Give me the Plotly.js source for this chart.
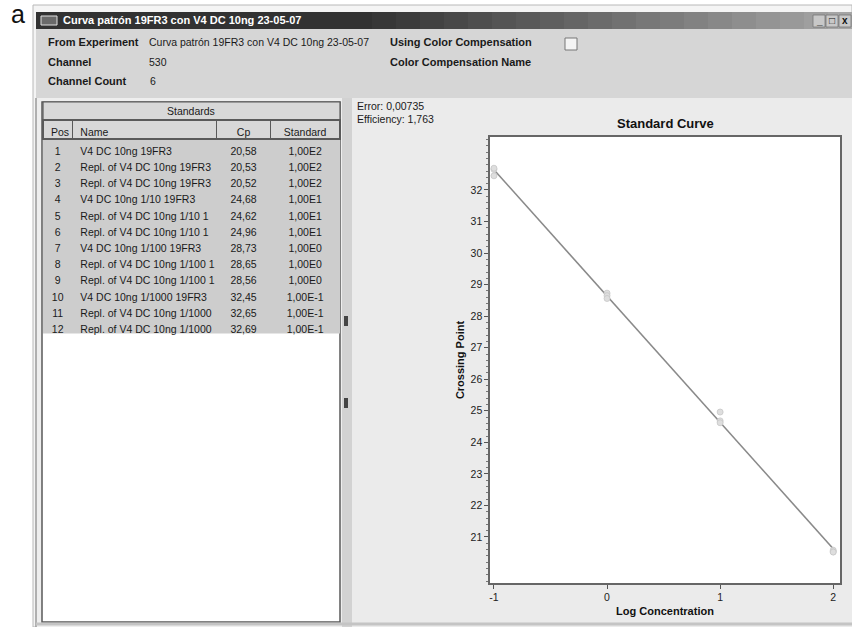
<!DOCTYPE html>
<html>
<head>
<meta charset="utf-8">
<script src="https://cdn.plot.ly/plotly-3.0.1.min.js"></script>
<style>
html,body{margin:0;padding:0;background:#fff;}
#chart{width:852px;height:627px;}
</style>
</head>
<body>
<div id="chart"></div>
<script>
// ---------- data ----------
const positions = [1,2,3,4,5,6,7,8,9,10,11,12];
const sampleNames = [
  "V4 DC 10ng 19FR3",
  "Repl. of V4 DC 10ng 19FR3",
  "Repl. of V4 DC 10ng 19FR3",
  "V4 DC 10ng 1/10 19FR3",
  "Repl. of V4 DC 10ng 1/10 1",
  "Repl. of V4 DC 10ng 1/10 1",
  "V4 DC 10ng 1/100 19FR3",
  "Repl. of V4 DC 10ng 1/100 1",
  "Repl. of V4 DC 10ng 1/100 1",
  "V4 DC 10ng 1/1000 19FR3",
  "Repl. of V4 DC 10ng 1/1000",
  "Repl. of V4 DC 10ng 1/1000"
];
const crossingPoints = [20.58,20.53,20.52,24.68,24.62,24.96,28.73,28.65,28.56,32.45,32.65,32.69];
const logConcentration = [2,2,2,1,1,1,0,0,0,-1,-1,-1];
const tableHeaders = ["Pos","Name","Cp","Standard"];
const xTicks = [-1,0,1,2];
const yTicks = [21,22,23,24,25,26,27,28,29,30,31,32];
const windowTitle = "Curva patrón 19FR3 con V4 DC 10ng 23-05-07";
const experimentName = "Curva patrón 19FR3 con V4 DC 10ng 23-05-07";
const channel = "530";
const channelCount = "6";
const errorText = "Error: 0,00735";
const efficiencyText = "Efficiency: 1,763";

// ---------- derived ----------
const NB = '\u00a0';
const noWrap = s => String(s).replace(/ /g, NB);
const fmtComma = (v, d) => v.toFixed(d).replace('.', ',');
const cpText = crossingPoints.map(v => fmtComma(v, 2));
const stdText = logConcentration.map(e => "1,00E" + e);
const nameText = sampleNames.map(noWrap);

// least-squares standard curve
const n = logConcentration.length;
const mx = logConcentration.reduce((a,b)=>a+b,0)/n;
const my = crossingPoints.reduce((a,b)=>a+b,0)/n;
let sxy = 0, sxx = 0;
for (let i=0;i<n;i++){ sxy += (logConcentration[i]-mx)*(crossingPoints[i]-my); sxx += (logConcentration[i]-mx)**2; }
const slope = sxy/sxx, intercept = my - slope*mx;
const lineX = [Math.min(...logConcentration), Math.max(...logConcentration)];
const lineY = lineX.map(x => intercept + slope*x);

// ---------- layout helpers (pixel -> paper) ----------
const W = 852, H = 627;
const px = x => x / W;
const py = y => 1 - y / H;
const FONT = "Liberation Sans, Arial, sans-serif";

function rect(x0,y0,x1,y1,fill,lineColor,lw){
  return {type:'rect', xref:'paper', yref:'paper', x0:px(x0), x1:px(x1), y0:py(y1), y1:py(y0),
    fillcolor: fill || 'rgba(0,0,0,0)', line:{color: lineColor || 'rgba(0,0,0,0)', width: lw===undefined?0:lw}, layer:'below'};
}
function seg(x0,y0,x1,y1,color,lw){
  return {type:'line', xref:'paper', yref:'paper', x0:px(x0), x1:px(x1), y0:py(y0), y1:py(y1),
    line:{color:color, width:lw}, layer:'below'};
}
function label(x,y,text,opts){
  opts = opts || {};
  return {xref:'paper', yref:'paper', x:px(x), y:py(y), text:text, showarrow:false,
    xanchor: opts.xanchor || 'left', yanchor: opts.yanchor || 'middle',
    font:{family:FONT, size: opts.size || 11, color: opts.color || '#1a1a1a'}};
}

const HEADER_H = 19, ROW_H = 16.2, TABLE_TOP = 120;
const rowsBottom = TABLE_TOP + HEADER_H + ROW_H * positions.length;

const shapes = [];
// window frame
shapes.push(rect(33,5,852,627,'#f4f4f4','#b8b8b8',1));
// title bar gradient
const steps = 34;
for (let i=0;i<steps;i++){
  const t = i/(steps-1);
  const g = Math.round(50 + 115*Math.max(0,(t-0.4)/0.6));
  const x0 = 36 + (852-36)*i/steps, x1 = 36 + (852-36)*(i+1)/steps + 1;
  shapes.push(rect(x0,12,x1,29,`rgb(${g},${g},${g})`));
}
// title icon
shapes.push(rect(41,16,57,25,'#6a6a6a','#e0e0e0',1));
// window controls
shapes.push(rect(813,15,825,27,'#c8c8c8','#777',0.8));
shapes.push(rect(826,15,838,27,'#c8c8c8','#777',0.8));
shapes.push(rect(839,15,851,27,'#c8c8c8','#777',0.8));
// header area
shapes.push(rect(36,29,852,98,'#d6d6d6'));
// checkbox
shapes.push(rect(565,38,577,50,'#f4f4f4','#777',1));
// left panel background
shapes.push(rect(36,98,342,627,'#eeeeee'));
shapes.push(seg(36,98,36,627,'#9a9a9a',1.5));
// table white area
shapes.push(rect(42,102,340,622,'#ffffff','#5a5a5a',1.5));
// selected rows background
shapes.push(rect(43,TABLE_TOP+HEADER_H,340,rowsBottom,'#cdcdcd'));
// "Standards" group header
shapes.push(rect(43,102,340,TABLE_TOP,'#d8d8d8','#5a5a5a',1.2));
// splitter / scrollbar strip
shapes.push(rect(342,98,352,627,'#d2d2d2'));
shapes.push(rect(344,316,348,326,'#444'));
shapes.push(rect(344,398,348,408,'#444'));
// right panel
shapes.push(rect(352,98,852,627,'#ebebeb'));
// plot area background
shapes.push(rect(490,137,840,583,'#ffffff'));
// bottom window edge
shapes.push(seg(36,624,852,624,'#c4c4c4',3));

const annotations = [
  label(9,14,'a',{size:25,color:'#111'}),
  label(61,20,'<b>'+windowTitle+'</b>',{color:'#ffffff',size:11}),
  label(819,21,'<b>_</b>',{xanchor:'center',size:10,color:'#111'}),
  label(832,21,'□',{xanchor:'center',size:10,color:'#111'}),
  label(845,21,'<b>x</b>',{xanchor:'center',size:10,color:'#111'}),
  label(46,42,'<b>From Experiment</b>'),
  label(147,42,experimentName,{size:10.5}),
  label(46,62,'<b>Channel</b>'),
  label(147,62,channel,{size:10.5}),
  label(46,81,'<b>Channel Count</b>'),
  label(148,81,channelCount,{size:10.5}),
  label(388,42,'<b>Using Color Compensation</b>'),
  label(388,62,'<b>Color Compensation Name</b>'),
  label(191,111,'Standards',{xanchor:'center',size:10.5}),
  label(355,106,errorText,{size:10.5}),
  label(355,119,efficiencyText,{size:10.5}),
  label(665,123,'<b>Standard Curve</b>',{xanchor:'center',size:13,color:'#111'})
];

const tableTrace = {
  type:'table',
  domain:{x:[px(43),px(340)], y:[0.03, py(TABLE_TOP)]},
  columnwidth:[29,143,53,69],
  header:{
    values: tableHeaders,
    align:['left','left','center','center'],
    height:HEADER_H,
    fill:{color:'#d8d8d8'},
    line:{color:'#5a5a5a', width:1.2},
    font:{family:FONT, size:10.5, color:'#1a1a1a'}
  },
  cells:{
    values:[positions, nameText, cpText, stdText],
    align:['center','left','center','center'],
    height:ROW_H,
    fill:{color:'rgba(0,0,0,0)'},
    line:{color:'rgba(0,0,0,0)', width:0},
    font:{family:FONT, size:10.5, color:'#1a1a1a'}
  }
};

const pointsTrace = {
  type:'scatter', mode:'markers', x:logConcentration, y:crossingPoints,
  marker:{symbol:'circle', size:6, color:'#dedede', line:{color:'#c6c6c6', width:0.8}},
  hoverinfo:'x+y', showlegend:false
};
const lineTrace = {
  type:'scatter', mode:'lines', x:lineX, y:lineY,
  line:{color:'#8a8a8a', width:1.6}, hoverinfo:'skip', showlegend:false
};

const layout = {
  width:W, height:H,
  margin:{l:0,r:0,t:0,b:0},
  paper_bgcolor:'#ffffff',
  plot_bgcolor:'#ffffff',
  showlegend:false,
  font:{family:FONT, size:11, color:'#222'},
  xaxis:{
    domain:[px(490),px(840)], range:[-1.035,2.06],
    tickmode:'array', tickvals:xTicks, ticktext:xTicks.map(String),
    ticks:'outside', ticklen:4, tickcolor:'#555', tickwidth:1,
    tickfont:{family:FONT,size:10.5,color:'#222'},
    showgrid:false, zeroline:false,
    showline:true, mirror:true, linecolor:'#666', linewidth:1.6,
    title:{text:'<b>Log Concentration</b>', font:{family:FONT,size:11,color:'#111'}, standoff:5}
  },
  yaxis:{
    domain:[py(583),py(137)], range:[19.54,33.68],
    tickmode:'array', tickvals:yTicks, ticktext:yTicks.map(String),
    ticks:'outside', ticklen:4, tickcolor:'#555', tickwidth:1,
    minor:{ticks:'outside', ticklen:2, tickcolor:'#777', dtick:0.2, tick0:0, showgrid:false},
    tickfont:{family:FONT,size:10.5,color:'#222'},
    showgrid:false, zeroline:false,
    showline:true, mirror:true, linecolor:'#666', linewidth:1.6,
    title:{text:'<b>Crossing Point</b>', font:{family:FONT,size:11,color:'#111'}, standoff:4}
  },
  shapes:shapes,
  annotations:annotations
};

Plotly.newPlot('chart',[tableTrace, lineTrace, pointsTrace], layout, {staticPlot:true, displayModeBar:false});
</script>
</body>
</html>
